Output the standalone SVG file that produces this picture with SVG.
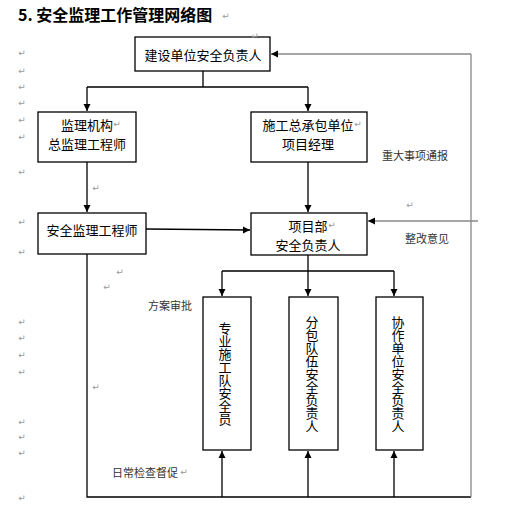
<svg xmlns="http://www.w3.org/2000/svg" width="521" height="512" viewBox="0 0 521 512">
<defs>
<marker id="ah" markerWidth="8" markerHeight="8" refX="7" refY="4" orient="auto" markerUnits="userSpaceOnUse">
<path d="M0,0.5 L7,4 L0,7.5 Z" fill="#000"/>
</marker>
</defs>
<style>
.box{fill:#fff;stroke:#000;stroke-width:1.3}
.t{font-family:"Noto Sans CJK SC","Noto Sans CJK JP",sans-serif;font-size:13px;fill:#000;text-anchor:middle;dominant-baseline:central}
.v{font-family:"Noto Sans CJK SC","Noto Sans CJK JP",sans-serif;font-size:13px;fill:#000;text-anchor:middle;writing-mode:vertical-rl}
.s{font-family:"Noto Sans CJK SC","Noto Sans CJK JP",sans-serif;font-size:11px;fill:#333;dominant-baseline:central}
.title{font-family:"Noto Sans CJK SC","Noto Sans CJK JP",sans-serif;font-size:16px;font-weight:bold;fill:#000;dominant-baseline:central}
.c{fill:none;stroke:#000;stroke-width:1.3}
.g{fill:none;stroke:#888;stroke-width:1.3}
.p{font-family:"DejaVu Sans",sans-serif;font-size:9px;fill:#999;text-anchor:middle;dominant-baseline:central}
</style>
<rect width="521" height="512" fill="#fff"/>
<text class="title" x="18" y="14">5. 安全监理工作管理网络图</text>

<g id="connectors">
<path class="c" d="M203,71 V87 M87,87 H308"/>
<path class="c" d="M87,87 V111" marker-end="url(#ah)"/>
<path class="c" d="M308,87 V111" marker-end="url(#ah)"/>
<path class="c" d="M87,162 V212" marker-end="url(#ah)"/>
<path class="c" d="M308,162 V212" marker-end="url(#ah)"/>
<path class="c" d="M146,229 L250,230" marker-end="url(#ah)"/>
<path class="c" d="M308,255 V271 M222,271 H394"/>
<path class="c" d="M222,271 V296" marker-end="url(#ah)"/>
<path class="c" d="M308,271 V296" marker-end="url(#ah)"/>
<path class="c" d="M394,271 V296" marker-end="url(#ah)"/>
<path class="c" d="M87,254 V497 H471"/>
<path class="c" d="M222,497 V451" marker-end="url(#ah)"/>
<path class="c" d="M308,497 V451" marker-end="url(#ah)"/>
<path class="c" d="M394,497 V451" marker-end="url(#ah)"/>
<path class="g" d="M471,497 V54"/>
<path class="g" d="M471,54 H271" marker-end="url(#ah)"/>
<path class="g" d="M478,221 H368" marker-end="url(#ah)"/>
<text class="s" x="382" y="155">重大事项通报</text>
<text class="s" x="405" y="238">整改意见</text>
<text class="s" x="148" y="305">方案审批</text>
<text class="s" x="112" y="472">日常检查督促</text>
</g>

<g id="n-owner">
<rect class="box" x="135" y="37" width="135" height="34"/>
<text class="t" x="203" y="54">建设单位安全负责人</text>
</g>
<g id="n-supervisor">
<rect class="box" x="38" y="112" width="98" height="50"/>
<text class="t"><tspan x="87" y="123.5">监理机构</tspan><tspan x="87" y="143">总监理工程师</tspan></text>
</g>
<g id="n-contractor">
<rect class="box" x="251" y="112" width="116" height="50"/>
<text class="t"><tspan x="308" y="123.5">施工总承包单位</tspan><tspan x="308" y="143">项目经理</tspan></text>
</g>
<g id="n-safety-engineer">
<rect class="box" x="38" y="213" width="108" height="41"/>
<text class="t" x="92" y="229">安全监理工程师</text>
</g>
<g id="n-project-dept">
<rect class="box" x="251" y="213" width="116" height="42"/>
<text class="t"><tspan x="308" y="224.5">项目部</tspan><tspan x="308" y="244">安全负责人</tspan></text>
</g>
<g id="n-team">
<rect class="box" x="203" y="297" width="48" height="153"/>
<text class="v" x="225" y="374">专业施工队安全员</text>
</g>
<g id="n-subcontract">
<rect class="box" x="289" y="297" width="49" height="153"/>
<text class="v" x="312" y="374">分包队伍安全负责人</text>
</g>
<g id="n-partner">
<rect class="box" x="376" y="297" width="47" height="153"/>
<text class="v" x="398" y="374">协作单位安全负责人</text>
</g>

<g id="para-marks">
<text class="p" x="226" y="16">↵</text>
<text class="p" x="255" y="36">↵</text>
<text class="p" x="22" y="53">↵</text>
<text class="p" x="22" y="71">↵</text>
<text class="p" x="22" y="87">↵</text>
<text class="p" x="22" y="103">↵</text>
<text class="p" x="22" y="120">↵</text>
<text class="p" x="22" y="137">↵</text>
<text class="p" x="22" y="172">↵</text>
<text class="p" x="22" y="222">↵</text>
<text class="p" x="22" y="252">↵</text>
<text class="p" x="22" y="322">↵</text>
<text class="p" x="22" y="338">↵</text>
<text class="p" x="22" y="355">↵</text>
<text class="p" x="22" y="372">↵</text>
<text class="p" x="22" y="422">↵</text>
<text class="p" x="22" y="437">↵</text>
<text class="p" x="22" y="453">↵</text>
<text class="p" x="22" y="498">↵</text>
<text class="p" x="117" y="124">↵</text>
<text class="p" x="358" y="124">↵</text>
<text class="p" x="332" y="225">↵</text>
<text class="p" x="96" y="188">↵</text>
<text class="p" x="120" y="272">↵</text>
<text class="p" x="107" y="287">↵</text>
<text class="p" x="96" y="387">↵</text>
<text class="p" x="410" y="205">↵</text>
<text class="p" x="184" y="472">↵</text>
</g>
</svg>
